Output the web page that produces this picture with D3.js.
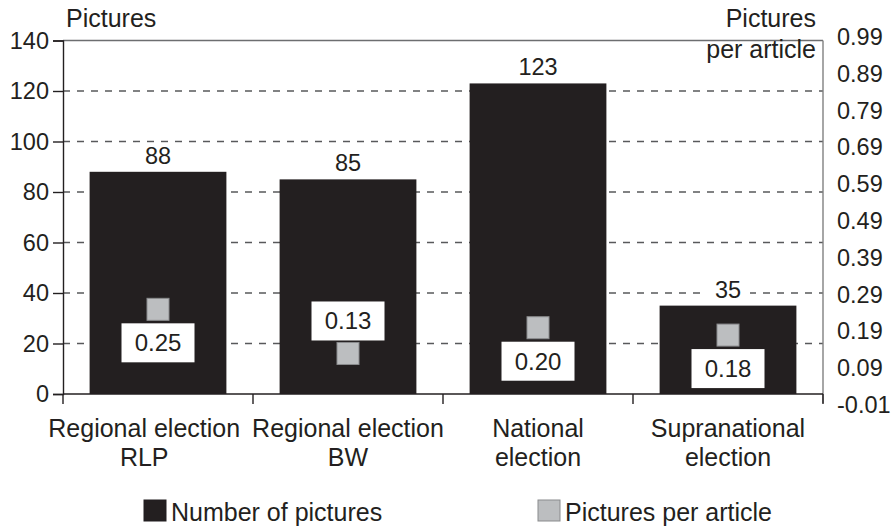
<!DOCTYPE html>
<html>
<head>
<meta charset="utf-8">
<script src="https://cdn.jsdelivr.net/npm/d3@7"></script>
<style>
  html, body { margin: 0; padding: 0; background: #fff; }
  svg { display: block; font-family: "Liberation Sans", Arial, Helvetica, sans-serif; }
  text { fill: #231f20; }
</style>
</head>
<body>
<svg id="chart" width="893" height="527"></svg>
<script>
// Election categories (two-line labels)
const categories = ["Regional election RLP", "Regional election BW", "National election", "Supranational election"];
const categoryLines = [["Regional election", "RLP"], ["Regional election", "BW"], ["National", "election"], ["Supranational", "election"]];

// Series: number of pictures (left axis) and pictures per article (right axis)
const pictureCounts = [88, 85, 123, 35];
const picturesPerArticle = [0.25, 0.13, 0.20, 0.18];
// Where the ratio's value box sits relative to its marker
const ratioLabelSide = ["below", "above", "below", "below"];

// Tick labels
const leftTicks = [0, 20, 40, 60, 80, 100, 120, 140];
const rightTickLabels = ["-0.01", "0.09", "0.19", "0.29", "0.39", "0.49", "0.59", "0.69", "0.79", "0.89", "0.99"];

const ink = "#231f20";
const fsWord = 25, fsNum = 23.5, fsBox = 24;
const svg = d3.select("#chart");

const x = d3.scaleBand().domain(categories).range([63, 823]).paddingInner(0.28).paddingOuter(0.14);
const y = d3.scaleLinear().domain([0, 140]).range([394, 40.5]);
const y2 = d3.scaleLinear().domain([-0.01, 0.99]).range([405, 37]);

const left = x.range()[0], right = x.range()[1];

// Dashed gridlines
svg.append("g").selectAll("line")
  .data(leftTicks.filter(t => t > 0 && t < 140))
  .join("line")
  .attr("x1", left).attr("x2", right)
  .attr("y1", d => y(d)).attr("y2", d => y(d))
  .attr("stroke", "#58595b").attr("stroke-width", 1.3)
  .attr("stroke-dasharray", "7,7");

// Top frame line and right axis line
svg.append("line").attr("x1", left).attr("x2", right).attr("y1", y(140)).attr("y2", y(140))
  .attr("stroke", "#6d6e70").attr("stroke-width", 1.4);
svg.append("line").attr("x1", right).attr("x2", right).attr("y1", y(140)).attr("y2", y2(-0.01) - 2)
  .attr("stroke", "#808080").attr("stroke-width", 1.4);

// Bars
svg.append("g").selectAll("rect")
  .data(categories)
  .join("rect")
  .attr("x", d => x(d))
  .attr("width", x.bandwidth())
  .attr("y", (d, i) => y(pictureCounts[i]))
  .attr("height", (d, i) => y(0) - y(pictureCounts[i]))
  .attr("fill", ink);

// Left axis
const leftAxis = svg.append("g")
  .attr("transform", `translate(${left},0)`)
  .call(d3.axisLeft(y).tickValues(leftTicks).tickSize(10).tickPadding(4));
leftAxis.select(".domain").attr("stroke", ink).attr("stroke-width", 1.4);
leftAxis.selectAll(".tick line").attr("stroke", ink).attr("stroke-width", 1.4);
leftAxis.selectAll(".tick text").attr("font-size", fsNum).attr("fill", ink)
  .style("font-family", "'Liberation Sans', Arial, sans-serif");

// Right axis labels
const rightAxis = svg.append("g")
  .attr("transform", `translate(${right},0)`)
  .call(d3.axisRight(y2).tickValues(rightTickLabels.map(Number)).tickSize(0).tickPadding(14)
    .tickFormat((d, i) => rightTickLabels[i]));
rightAxis.select(".domain").remove();
rightAxis.selectAll(".tick text").attr("font-size", fsNum).attr("fill", ink)
  .style("font-family", "'Liberation Sans', Arial, sans-serif");

// Bottom axis line with category separators
svg.append("line").attr("x1", left).attr("x2", right).attr("y1", y(0)).attr("y2", y(0))
  .attr("stroke", ink).attr("stroke-width", 1.4);
svg.append("g").selectAll("line")
  .data(d3.range(categories.length + 1))
  .join("line")
  .attr("x1", i => left + i * x.step()).attr("x2", i => left + i * x.step())
  .attr("y1", y(0)).attr("y2", y(0) + 10)
  .attr("stroke", ink).attr("stroke-width", 1.4);

// Category labels, centred under bars; a label crowding its right neighbour is pushed left
const catG = svg.append("g").selectAll("text")
  .data(categories)
  .join("text")
  .attr("text-anchor", "middle")
  .attr("font-size", fsWord)
  .attr("x", d => x(d) + x.bandwidth() / 2);
catG.selectAll("tspan")
  .data((d, i) => categoryLines[i].map(line => ({ line, c: d })))
  .join("tspan")
  .attr("x", d => x(d.c) + x.bandwidth() / 2)
  .attr("y", (d, j) => 437 + j * 28.5)
  .text(d => d.line);
const catNodes = catG.nodes();
for (let i = catNodes.length - 2; i >= 0; i--) {
  const a = catNodes[i].getBBox(), b = catNodes[i + 1].getBBox();
  const overlap = a.x + a.width + 12 - b.x;
  if (overlap > 0) {
    d3.select(catNodes[i]).selectAll("tspan").attr("x", d => x(d.c) + x.bandwidth() / 2 - overlap);
  }
}

// Count labels above bars (white backing breaks the gridline)
const countG = svg.append("g").selectAll("g")
  .data(categories)
  .join("g")
  .attr("transform", (d, i) => `translate(${x(d) + x.bandwidth() / 2},${y(pictureCounts[i]) - 8})`);
countG.append("rect")
  .attr("x", -22).attr("y", -21).attr("width", 44).attr("height", 23)
  .attr("fill", "#fff");
countG.append("text")
  .attr("text-anchor", "middle")
  .attr("font-size", fsNum)
  .text((d, i) => pictureCounts[i]);

// Ratio markers and their value boxes
const sq = 22, boxW = 73, boxH = 39;
const boxTop = i => ratioLabelSide[i] === "below" ? sq / 2 + 3 : -sq / 2 - 2 - boxH;
const ratioG = svg.append("g").selectAll("g")
  .data(categories)
  .join("g")
  .attr("transform", (d, i) => `translate(${x(d) + x.bandwidth() / 2},${y2(picturesPerArticle[i])})`);
ratioG.append("rect")
  .attr("x", -sq / 2).attr("y", -sq / 2).attr("width", sq).attr("height", sq)
  .attr("fill", "#bcbec0").attr("stroke", "#8a8b8d").attr("stroke-width", 1);
ratioG.append("rect")
  .attr("x", -boxW / 2)
  .attr("y", (d, i) => boxTop(i))
  .attr("width", boxW).attr("height", boxH)
  .attr("fill", "#fff");
ratioG.append("text")
  .attr("text-anchor", "middle")
  .attr("font-size", fsBox)
  .attr("y", (d, i) => boxTop(i) + boxH / 2 + 8.5)
  .text((d, i) => d3.format(".2f")(picturesPerArticle[i]));

// Axis titles
svg.append("text").attr("x", 66).attr("y", 27).attr("font-size", fsWord).text("Pictures");
svg.append("text").attr("x", 816).attr("y", 27).attr("font-size", fsWord).attr("text-anchor", "end").text("Pictures");
svg.append("text").attr("x", 816).attr("y", 58).attr("font-size", fsWord).attr("text-anchor", "end").text("per article");

// Legend
const legend = [
  { label: "Number of pictures", fill: ink, stroke: ink, x: 144 },
  { label: "Pictures per article", fill: "#bcbec0", stroke: "#8a8b8d", x: 538 }
];
const lg = svg.append("g").selectAll("g").data(legend).join("g")
  .attr("transform", d => `translate(${d.x},500)`);
lg.append("rect").attr("width", 22).attr("height", 21)
  .attr("fill", d => d.fill).attr("stroke", d => d.stroke).attr("stroke-width", 1);
lg.append("text").attr("x", 27).attr("y", 21).attr("font-size", fsWord).text(d => d.label);
</script>
</body>
</html>
